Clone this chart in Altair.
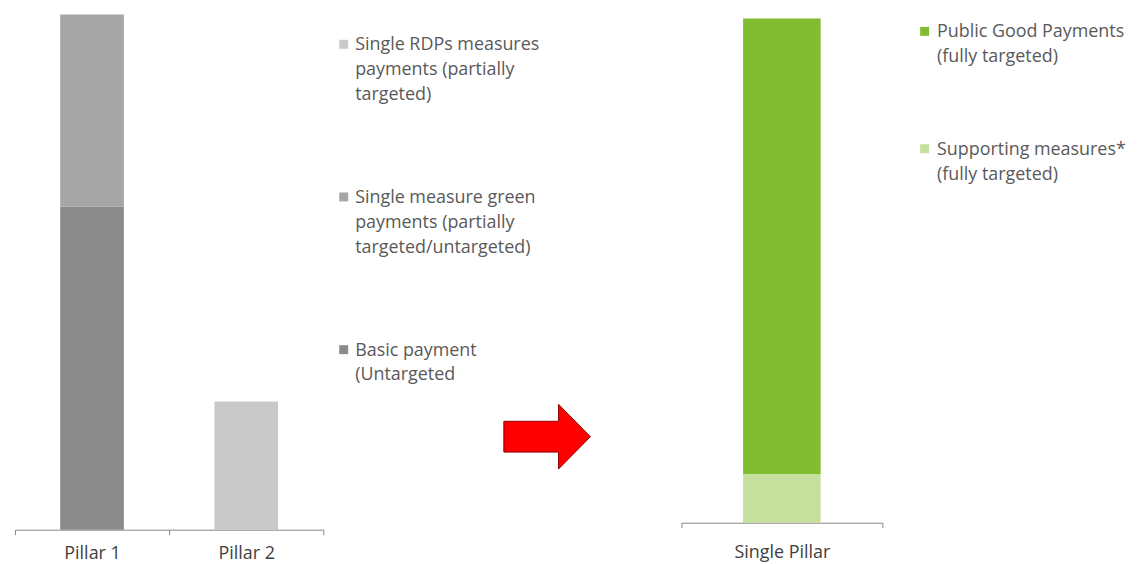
import altair as alt
import pandas as pd

# ---- data ----
left_categories = ["Pillar 1", "Pillar 1", "Pillar 2"]
left_components = ["Basic payment", "Single measure green payments", "Single RDPs measures payments"]
left_values = [62.7, 37.3, 24.9]

right_categories = ["Single Pillar", "Single Pillar"]
right_components = ["Supporting measures", "Public Good Payments"]
right_values = [9.7, 90.5]

left_legend_keys = ["Single RDPs measures payments", "Single measure green payments", "Basic payment"]
left_legend_labels = [
    "Single RDPs measures\npayments (partially\ntargeted)",
    "Single measure green\npayments (partially\ntargeted/untargeted)",
    "Basic payment\n(Untargeted",
]
right_legend_keys = ["Public Good Payments", "Supporting measures"]
right_legend_labels = [
    "Public Good Payments\n(fully targeted)",
    "Supporting measures*\n(fully targeted)",
]

component_domain = ["Basic payment", "Single measure green payments", "Single RDPs measures payments",
                    "Public Good Payments", "Supporting measures"]
component_colors = ["#8b8b8b", "#a6a6a6", "#c9c9c9", "#82bc30", "#c5df9c"]

color_scale = alt.Scale(domain=component_domain, range=component_colors)

FONT = "Open Sans"


def axis(pad):
    return alt.Axis(title=None, labelAngle=0, labelFont=FONT, labelFontSize=18, labelColor="#404040",
                    domainColor="#878787", tickColor="#878787", tickSize=5, tickBand="extent",
                    labelPadding=pad, domainWidth=1, tickWidth=1)


left_df = pd.DataFrame({"pillar": left_categories, "component": left_components, "value": left_values})
left_df["stack"] = [component_domain.index(c) for c in left_components]

left = alt.Chart(left_df).mark_bar(width=64).encode(
    x=alt.X("pillar:N", sort=["Pillar 1", "Pillar 2"], scale=alt.Scale(paddingInner=0, paddingOuter=0), axis=axis(10)),
    y=alt.Y("value:Q", stack="zero", scale=alt.Scale(domain=[0, 100], nice=False), axis=None),
    color=alt.Color("component:N", scale=color_scale, legend=None),
    order=alt.Order("stack:Q"),
).properties(width=310, height=518)

right_df = pd.DataFrame({"pillar": right_categories, "component": right_components, "value": right_values})
right_df["stack"] = list(range(len(right_df)))

right = alt.Chart(right_df).mark_bar(width=78).encode(
    x=alt.X("pillar:N", scale=alt.Scale(paddingInner=0, paddingOuter=0), axis=axis(16)),
    y=alt.Y("value:Q", stack="zero", scale=alt.Scale(domain=[0, 101], nice=False), axis=None),
    color=alt.Color("component:N", scale=color_scale, legend=None),
    order=alt.Order("stack:Q"),
).properties(width=202, height=511)


def legend_panel(keys, labels, rng, sq_x, txt_x):
    df = pd.DataFrame({"key": keys, "label": labels})
    ys = alt.Scale(type="point", domain=keys, range=rng, padding=0)
    sq = alt.Chart(df).mark_square(size=81, opacity=1, yOffset=8).encode(
        x=alt.value(sq_x),
        y=alt.Y("key:N", scale=ys, axis=None),
        color=alt.Color("key:N", scale=color_scale, legend=None),
    )
    tx = alt.Chart(df).mark_text(align="left", baseline="top", lineBreak="\n", lineHeight=25,
                                 font=FONT, fontSize=18, color="#595959").encode(
        x=alt.value(txt_x),
        y=alt.Y("key:N", scale=ys, axis=None),
        text="label:N",
    )
    return sq, tx


sq_l, tx_l = legend_panel(left_legend_keys, left_legend_labels, [22, 329], 20.5, 32)

arrow_path = "M -1 -0.356 L 0.264 -0.356 L 0.264 -0.747 L 1 0 L 0.264 0.747 L 0.264 0.356 L -1 0.356 Z"
arrow = alt.Chart(pd.DataFrame({"arrow": ["arrow"]})).mark_point(
    shape=arrow_path, size=87 ** 2, filled=True, fill="#ff0000", stroke="#8b0000", strokeWidth=1, opacity=1
).encode(x=alt.value(225), y=alt.value(424.5))

leg_left = alt.layer(sq_l, tx_l, arrow).properties(width=360, height=518)

sq_r, tx_r = legend_panel(right_legend_keys, right_legend_labels, [9, 127], 42.5, 55)
leg_right = alt.layer(sq_r, tx_r).properties(width=250, height=511)

chart = alt.hconcat(left, leg_left, right, leg_right, spacing=0, bounds="flush").properties(
    padding={"left": 6, "top": 5, "right": 0, "bottom": 0},
    background="white",
).configure_view(stroke=None)

chart.save("out.html", embed_options={"renderer": "svg", "actions": False})
